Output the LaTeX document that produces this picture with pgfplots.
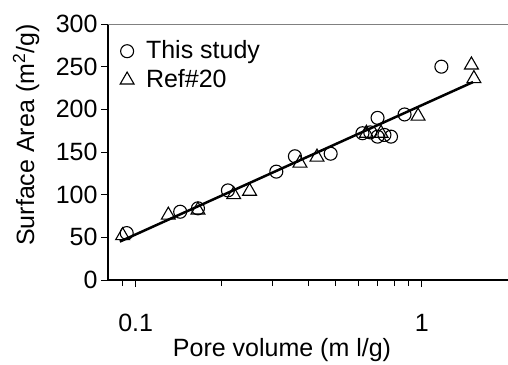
\documentclass[border=0pt]{standalone}
\usepackage{fontspec}
\setmainfont{Liberation Sans}
\usepackage{pgfplots}
\pgfplotsset{compat=1.18}
\begin{document}
\fontsize{25bp}{29bp}\selectfont
\begin{tikzpicture}
\begin{semilogxaxis}[
  scale only axis, width=400bp, height=256bp,
  xmin=0.08, xmax=2, ymin=0, ymax=300,
  axis x line*=bottom, axis y line*=left,
  axis line style={line width=1.2bp, -},
  xtick={0.1,1}, xticklabels={0.1,1},
  minor xtick={0.09,0.2,0.3,0.4,0.5,0.6,0.7,0.8,0.9},
  ytick={0,50,...,300},
  tick align=outside,
  major tick length=7bp, minor tick length=6bp,
  tick style={line width=1bp, black},
  /pgf/number format/assume math mode=true,
  ticklabel style={font=\fontsize{25bp}{29bp}\selectfont},
  xticklabel style={yshift=-19bp},
  yticklabel style={xshift=5bp},
  label style={font=\fontsize{25bp}{29bp}\selectfont},
  xlabel={Pore volume (m l/g)},
  ylabel={Surface Area (m\textsuperscript{2}/g)},
  xlabel style={at={(axis description cs:0.435,-0.275)}, anchor=center},
  ylabel style={at={(axis description cs:-0.205,0.566)}, anchor=center},
  legend style={at={(axis description cs:0.03,0.945)}, anchor=north west, draw=none, fill=none, inner sep=0pt,
    font=\fontsize{25bp}{29bp}\selectfont, row sep=3bp,
    /tikz/every odd column/.append style={column sep=10bp}},
  legend cell align=left,
]
\addplot[only marks, mark=o, mark size=6.5bp, mark options={line width=1.1bp}, black] coordinates {
(0.093,55) (0.143,80) (0.165,84) (0.21,105) (0.31,127) (0.36,145) (0.48,148)
(0.62,172) (0.66,173) (0.70,190) (0.70,168) (0.74,170) (0.78,168) (0.87,194) (1.17,250)
};
\addlegendentry{This study}
\addplot[only marks, mark=triangle, mark size=8bp, mark options={line width=1.1bp}, black] coordinates {
(0.09,52) (0.13,76) (0.165,82) (0.22,100) (0.25,104) (0.375,137) (0.43,144)
(0.64,172) (0.72,172) (0.97,192) (1.49,252) (1.52,236)
};
\addlegendentry{Ref\#20}
\addplot[black, line width=2.5bp, forget plot] coordinates {(0.088,45) (1.51,232)};
\draw[gray, line width=0.6bp] (rel axis cs:0,1) -- (rel axis cs:1,1);
\end{semilogxaxis}
\pgfresetboundingbox
\path (current axis.south west) ++(-108bp,-85bp) rectangle ++(508bp,365bp);
\end{tikzpicture}
\end{document}
